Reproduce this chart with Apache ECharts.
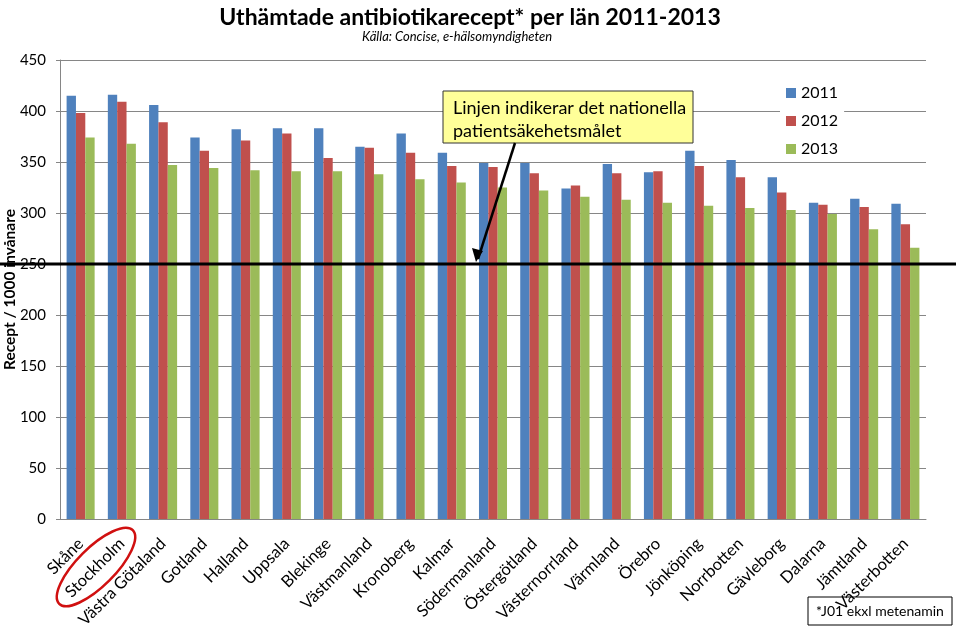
<!DOCTYPE html>
<html><head><meta charset="utf-8">
<script src="https://cdn.jsdelivr.net/npm/echarts@6/dist/echarts.min.js"></script>
<style>html,body{margin:0;padding:0;background:#fff}#c{width:960px;height:626px}</style>
</head><body><div id="c"></div>
<script>
const categories = ['Skåne','Stockholm','Västra Götaland','Gotland','Halland','Uppsala','Blekinge','Västmanland','Kronoberg','Kalmar','Södermanland','Östergötland','Västernorrland','Värmland','Örebro','Jönköping','Norrbotten','Gävleborg','Dalarna','Jämtland','Västerbotten'];
const v2011 = [415,416,406,374,382,383,383,365,378,359,349,349,324,348,340,361,352,335,310,314,309];
const v2012 = [398,409,389,361,371,378,354,364,359,346,345,339,327,339,341,346,335,320,308,306,289];
const v2013 = [374,368,347,344,342,341,341,338,333,330,325,322,316,313,310,307,305,303,299,284,266];
const targetValue = 250;
const yTicks = {min:0, max:450, interval:50};

const F = 'Lato, "Open Sans", sans-serif';
const chart = echarts.init(document.getElementById('c'));
const bar = (name, data, color) => ({name, type:'bar', data, barGap:'0%', barCategoryGap:'32%', itemStyle:{color}});
chart.setOption({
  animation:false,
  title:[{text:'Uthämtade antibiotikarecept* per län 2011-2013', left:465, textAlign:'center', top:1,
    textStyle:{fontFamily:F, fontWeight:'bold', fontSize:23, color:'#000'}},
    {text:'Källa: Concise, e-hälsomyndigheten', left:452, textAlign:'center', top:25,
    textStyle:{fontFamily:F, fontStyle:'italic', fontWeight:'normal', fontSize:13, color:'#000'}}],
  legend:{orient:'vertical', left:780, top:81, itemWidth:10, itemHeight:10, itemGap:12, icon:'rect',
    backgroundColor:'#fff', padding:[4,6,4,6],
    textStyle:{fontFamily:F, fontSize:16, color:'#000'}},
  grid:{left:60, right:34, top:60, bottom:107, outerBoundsMode:'none'},
  xAxis:{type:'category', data:categories,
    axisLine:{lineStyle:{color:'#868686'}}, axisTick:{show:false},
    axisLabel:{interval:0, rotate:45, fontFamily:F, fontSize:16.5, color:'#000', margin:22}},
  yAxis:{type:'value', min:yTicks.min, max:yTicks.max, interval:yTicks.interval,
    name:'Recept / 1000 invånare', nameLocation:'middle', nameGap:42, nameRotate:90, nameMoveOverlap:false,
    nameTextStyle:{fontFamily:F, fontWeight:'bold', fontSize:15.5, color:'#000'},
    axisLine:{show:true, lineStyle:{color:'#868686'}}, axisTick:{show:true, length:4, lineStyle:{color:'#868686'}},
    splitLine:{lineStyle:{color:'#868686'}},
    axisLabel:{fontFamily:F, fontSize:15, color:'#000', margin:14}},
  series:[bar('2011', v2011, '#4F81BD'), bar('2012', v2012, '#C0504D'), bar('2013', v2013, '#9BBB59')]
});
const yT = chart.convertToPixel({yAxisIndex:0}, targetValue);
chart.setOption({graphic:[
  {type:'line', shape:{x1:0, y1:yT, x2:956, y2:yT}, style:{stroke:'#000', lineWidth:3}, z:100},
  {type:'rect', shape:{x:443, y:91, width:250, height:52}, style:{fill:'#FFFF99', stroke:'#333', lineWidth:1}, z:100},
  {type:'text', x:453, y:97, style:{text:'Linjen indikerar det nationella\npatientsäkehetsmålet', fontFamily:F, fontSize:18, lineHeight:23, fill:'#000'}, z:101},
  {type:'line', shape:{x1:515, y1:143, x2:478, y2:yT-5}, style:{stroke:'#000', lineWidth:2.5}, z:101},
  {type:'polygon', shape:{points:[[476,yT-2],[472,yT-16],[483,yT-13]]}, style:{fill:'#000'}, z:101},
  {type:'ellipse', shape:{cx:0, cy:0, rx:52, ry:19}, x:96, y:567, rotation:Math.PI/4, style:{fill:'none', stroke:'#D01010', lineWidth:2.5}, z:101},
  {type:'rect', shape:{x:808, y:597, width:144, height:28}, style:{fill:'none', stroke:'#000', lineWidth:1}, z:101},
  {type:'text', x:880, y:611, style:{text:'*J01 ekxl metenamin', fontFamily:F, fontSize:14, fill:'#000', align:'center', verticalAlign:'middle'}, z:102}
]});
</script></body></html>
